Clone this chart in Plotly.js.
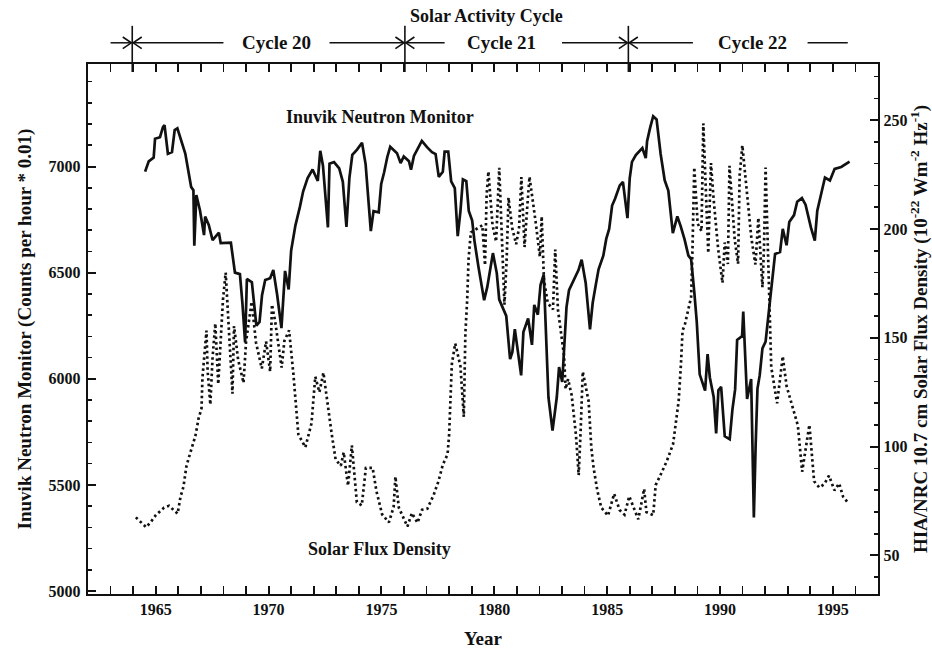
<!DOCTYPE html>
<html>
<head>
<meta charset="utf-8">
<script src="https://cdn.plot.ly/plotly-3.0.1.min.js"></script>
<style>html,body{margin:0;padding:0;background:#fff;}#chart{width:932px;height:654px;}</style>
</head>
<body>
<div id="chart"></div>
<script>
// Inuvik neutron monitor (counts per hour * 0.01)
const neutronYear = [1964.53,1964.69,1964.91,1964.97,1965.19,1965.32,1965.39,1965.54,1965.72,1965.84,1965.96,1966.15,1966.31,1966.57,1966.67,1966.71,1966.80,1966.96,1967.14,1967.19,1967.35,1967.52,1967.80,1967.88,1968.33,1968.51,1968.73,1968.84,1968.96,1969.04,1969.26,1969.46,1969.60,1969.71,1969.85,1970.07,1970.21,1970.38,1970.57,1970.73,1970.89,1971.00,1971.19,1971.39,1971.53,1971.73,1971.95,1972.18,1972.29,1972.41,1972.63,1972.70,1972.90,1973.13,1973.29,1973.45,1973.58,1973.71,1973.92,1974.14,1974.30,1974.53,1974.65,1974.88,1974.99,1975.12,1975.26,1975.39,1975.54,1975.69,1975.85,1975.99,1976.22,1976.31,1976.44,1976.65,1976.79,1977.02,1977.24,1977.40,1977.54,1977.72,1977.80,1977.96,1978.09,1978.25,1978.38,1978.50,1978.61,1978.76,1978.87,1979.02,1979.12,1979.30,1979.55,1979.69,1979.94,1980.11,1980.22,1980.53,1980.70,1980.80,1980.91,1981.19,1981.29,1981.50,1981.67,1981.77,1981.93,1982.05,1982.19,1982.40,1982.58,1982.77,1982.87,1983.01,1983.14,1983.20,1983.31,1983.52,1983.73,1983.87,1984.05,1984.24,1984.36,1984.49,1984.62,1984.83,1984.96,1985.09,1985.22,1985.35,1985.56,1985.70,1985.90,1986.00,1986.10,1986.27,1986.56,1986.71,1986.77,1986.90,1987.04,1987.19,1987.37,1987.55,1987.71,1987.91,1988.11,1988.26,1988.43,1988.60,1988.72,1988.86,1988.97,1989.10,1989.34,1989.45,1989.55,1989.72,1989.83,1989.93,1990.05,1990.21,1990.43,1990.55,1990.67,1990.76,1990.98,1991.03,1991.20,1991.38,1991.50,1991.58,1991.66,1991.76,1991.88,1992.02,1992.14,1992.20,1992.32,1992.44,1992.66,1992.78,1992.95,1993.07,1993.28,1993.42,1993.63,1993.79,1994.03,1994.20,1994.31,1994.45,1994.65,1994.87,1995.08,1995.37,1995.74];
const neutronCounts = [6976,7024,7042,7131,7138,7186,7195,7060,7068,7172,7180,7117,7061,6904,6888,6627,6865,6794,6677,6764,6725,6653,6688,6639,6641,6500,6493,6358,6171,6470,6455,6250,6268,6394,6465,6474,6513,6396,6239,6508,6421,6604,6723,6811,6882,6946,6986,6932,7074,7004,6713,7013,7021,6991,6928,6715,6945,7055,7080,7112,7010,6696,6790,6784,6918,6973,7045,7093,7077,7063,7016,7047,7025,6985,7050,7097,7121,7091,7068,7059,6951,6975,7070,7070,6930,6898,6672,6789,6939,6931,6791,6745,6651,6526,6370,6433,6592,6498,6373,6296,6093,6125,6234,6016,6220,6284,6160,6348,6302,6443,6491,5912,5756,5914,6055,5985,6198,6338,6417,6465,6512,6561,6451,6233,6358,6438,6516,6580,6659,6706,6816,6848,6911,6927,6757,6944,7022,7054,7087,7040,7119,7181,7237,7222,7059,6935,6887,6686,6765,6718,6657,6580,6564,6409,6269,6021,5944,6116,6006,5914,5743,5946,5962,5729,5715,5855,5950,6183,6201,6317,5905,5999,5346,5689,5954,6017,6143,6175,6299,6362,6471,6588,6597,6706,6629,6739,6771,6834,6851,6820,6712,6651,6792,6854,6948,6934,6989,6998,7023];

// HIA/NRC 10.7 cm solar flux density
const fluxYear = [1964.12,1964.58,1964.79,1965.01,1965.37,1965.59,1965.97,1966.10,1966.23,1966.36,1966.49,1966.63,1966.76,1966.90,1967.03,1967.07,1967.13,1967.25,1967.30,1967.42,1967.52,1967.64,1967.77,1967.88,1967.98,1968.10,1968.40,1968.47,1968.65,1968.89,1969.00,1969.25,1969.44,1969.70,1969.89,1970.07,1970.15,1970.29,1970.58,1970.70,1970.91,1971.10,1971.21,1971.32,1971.63,1971.90,1972.07,1972.25,1972.43,1972.62,1972.79,1972.97,1973.20,1973.33,1973.52,1973.69,1973.91,1974.13,1974.31,1974.61,1974.78,1975.03,1975.33,1975.54,1975.62,1975.77,1976.00,1976.15,1976.35,1976.60,1976.80,1977.03,1977.31,1977.52,1977.72,1977.93,1978.00,1978.06,1978.12,1978.27,1978.50,1978.65,1978.72,1978.80,1978.86,1978.96,1979.47,1979.59,1979.66,1979.74,1979.92,1980.08,1980.22,1980.45,1980.55,1980.63,1980.79,1980.97,1981.10,1981.20,1981.34,1981.46,1981.56,1981.84,1982.02,1982.10,1982.20,1982.37,1982.60,1982.70,1982.82,1983.09,1983.16,1983.27,1983.43,1983.62,1983.74,1983.83,1983.92,1984.18,1984.30,1984.40,1984.57,1984.74,1985.04,1985.31,1985.55,1985.77,1985.98,1986.10,1986.38,1986.64,1986.74,1987.04,1987.15,1987.37,1987.64,1987.92,1988.05,1988.17,1988.27,1988.34,1988.45,1988.58,1988.72,1988.78,1988.86,1989.01,1989.18,1989.26,1989.48,1989.60,1989.72,1989.92,1990.11,1990.21,1990.35,1990.42,1990.65,1990.80,1990.87,1990.99,1991.19,1991.39,1991.57,1991.70,1991.88,1991.95,1992.02,1992.19,1992.27,1992.53,1992.78,1992.95,1993.20,1993.45,1993.64,1993.83,1993.96,1994.17,1994.40,1994.62,1994.83,1995.07,1995.28,1995.45,1995.67];
const fluxValue = [67.5,63,65.5,68.6,72,72.8,69.2,77,81.6,91,95.7,100.5,105,113,117.6,131.6,137.7,153.3,134.8,119.3,141.1,156.6,128.7,147.5,167.6,180,124.3,155.4,140,129.3,147.9,166.6,148,135.9,148.3,134.5,165.3,157.7,136.3,148.6,153.4,133.3,118,105.6,99.7,110.6,132.2,125,134,118.6,106.3,94.1,91.2,97.4,82,100.6,74.5,73,90.2,90.3,79.5,68.9,65.2,72.2,86.2,72,66.3,63.3,69.5,65,71,71.4,77.7,83.9,91.7,96.5,105.7,121.1,138,147.4,137,113.7,152.2,167.6,186.1,198.4,201.7,183.3,215.6,226.4,201.9,194.2,228.1,165.2,186.7,214.4,200.6,193,200.8,223.8,191.7,210.1,224,202.6,187.3,205.8,176.7,166,163,190.6,163,141.8,126.5,131,123.5,105.2,86.9,108.3,134.5,120.8,99.4,90.2,79.6,72,68.3,78.4,70.9,68.7,77.2,74,66.6,80.6,69.9,68.5,82.3,87.1,93.3,101.1,110.3,121.1,137.9,153.2,156.4,162.5,168.7,190.1,228.3,202.5,199,248.5,188.9,230.3,213.4,190.6,175.3,193.8,183.9,229,195.4,184,224.6,238.4,218.6,195.8,183.7,205.1,173.2,191.5,228.2,170.2,136.6,119.9,141.5,127.8,118.8,109.7,88.5,102.3,110,84.1,81.2,82.8,86.7,79.9,83.1,77.1,74.2];

// Solar activity cycle boundaries and labels
const cycleNames = ['Cycle 20', 'Cycle 21', 'Cycle 22'];
const cycleStart = [1963.96, 1976.04, 1985.94];
const cycleLabelYear = [1970.34, 1980.3, 1991.42];
const arrowInTail = [1963.0, 1972.7, 1983.0];    // arrows pointing right into each boundary
const arrowOutTail = [1968.0, 1977.8, 1988.8];   // arrows pointing left away from each boundary
const trailingLine = [1993.88, 1995.66];

const FONT = 'Liberation Serif, Times New Roman, serif';
const ink = '#111';

const traces = [
  {x: neutronYear, y: neutronCounts, type: 'scatter', mode: 'lines', yaxis: 'y',
   line: {color: ink, width: 2.7}, hoverinfo: 'skip', showlegend: false},
  {x: fluxYear, y: fluxValue, type: 'scatter', mode: 'lines', yaxis: 'y2',
   line: {color: ink, width: 2.7, dash: '2.5px,3px'}, hoverinfo: 'skip', showlegend: false}
];

const rowY = 1.04;
const headDx = 0.38, headDy = 0.011;
const shapes = [];
const annotations = [];
function arrow(tail, head) {
  const dir = head > tail ? 1 : -1;
  shapes.push({type: 'line', xref: 'x', yref: 'paper', x0: tail, x1: head, y0: rowY, y1: rowY,
               line: {color: ink, width: 1.5}});
  const bx = head - dir * headDx;
  shapes.push({type: 'path', xref: 'x', yref: 'paper',
               path: `M ${bx},${rowY + headDy} L ${head},${rowY} L ${bx},${rowY - headDy}`,
               line: {color: ink, width: 1.6}});
}
cycleStart.forEach((s, i) => {
  shapes.push({type: 'line', xref: 'x', yref: 'paper', x0: s, x1: s, y0: 0.985, y1: 1.072,
               line: {color: ink, width: 1.6}});
  arrow(arrowInTail[i], s - 0.04);
  arrow(arrowOutTail[i], s + 0.04);
  annotations.push({xref: 'x', yref: 'paper', x: cycleLabelYear[i], y: rowY, text: cycleNames[i], showarrow: false,
                    font: {family: FONT, size: 19, color: ink, weight: 700}, yanchor: 'middle'});
});
shapes.push({type: 'line', xref: 'x', yref: 'paper', x0: trailingLine[0], x1: trailingLine[1], y0: rowY, y1: rowY,
             line: {color: ink, width: 1.5}});
annotations.push({xref: 'paper', yref: 'paper', x: 0.505, y: 1.09, text: 'Solar Activity Cycle', showarrow: false,
                  font: {family: FONT, size: 18, color: ink, weight: 700}, yanchor: 'middle'});
annotations.push({xref: 'x', yref: 'paper', x: 1974.95, y: 0.9, text: 'Inuvik Neutron Monitor', showarrow: false,
                  font: {family: FONT, size: 18, color: ink, weight: 700}, yanchor: 'middle'});
annotations.push({xref: 'x', yref: 'paper', x: 1974.9, y: 0.085, text: 'Solar Flux Density', showarrow: false,
                  font: {family: FONT, size: 18, color: ink, weight: 700}, yanchor: 'middle'});

const tickFont = {family: FONT, size: 16, color: ink, weight: 700};
const titleFont = {family: FONT, size: 19, color: ink, weight: 700};

const layout = {
  width: 932, height: 654,
  margin: {l: 88, r: 54, t: 64, b: 60},
  paper_bgcolor: '#fff', plot_bgcolor: '#fff',
  showlegend: false,
  xaxis: {
    range: [1962, 1997], tickmode: 'linear', tick0: 1965, dtick: 5,
    ticks: 'inside', ticklen: 8, tickwidth: 2, tickcolor: ink,
    minor: {tickmode: 'linear', tick0: 1962, dtick: 1, ticks: 'inside', ticklen: 4, tickwidth: 1.6, tickcolor: ink, showgrid: false},
    showline: true, linewidth: 2.2, linecolor: ink, mirror: 'allticks',
    showgrid: false, zeroline: false, tickfont: tickFont,
    title: {text: 'Year', font: titleFont, standoff: 14}
  },
  yaxis: {
    range: [4986, 7483], tickmode: 'linear', tick0: 5000, dtick: 500,
    ticks: 'inside', ticklen: 8, tickwidth: 2, tickcolor: ink,
    minor: {tickmode: 'linear', tick0: 5000, dtick: 100, ticks: 'inside', ticklen: 4, tickwidth: 1.6, tickcolor: ink, showgrid: false},
    showline: true, linewidth: 2.2, linecolor: ink,
    showgrid: false, zeroline: false, tickfont: tickFont, ticklabelstandoff: 2,
    title: {text: 'Inuvik Neutron Monitor (Counts per hour * 0.01)', font: titleFont, standoff: 12}
  },
  yaxis2: {
    overlaying: 'y', side: 'right',
    range: [32.3, 275.8], tickmode: 'linear', tick0: 50, dtick: 50,
    ticks: 'inside', ticklen: 8, tickwidth: 2, tickcolor: ink,
    minor: {tickmode: 'linear', tick0: 50, dtick: 10, ticks: 'inside', ticklen: 4, tickwidth: 1.6, tickcolor: ink, showgrid: false},
    showline: true, linewidth: 2.2, linecolor: ink,
    showgrid: false, zeroline: false, tickfont: tickFont,
    title: {text: 'HIA/NRC 10.7 cm Solar Flux Density (10<sup>-22</sup> Wm<sup>-2</sup> Hz<sup>-1</sup>)', font: titleFont, standoff: 4}
  },
  shapes: shapes,
  annotations: annotations
};

Plotly.newPlot('chart', traces, layout, {staticPlot: true, displayModeBar: false});
</script>
</body>
</html>
